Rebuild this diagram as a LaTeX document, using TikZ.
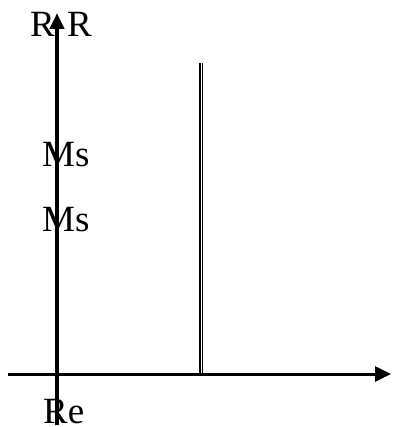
\documentclass[tikz,border=0pt]{standalone}
\usepackage{fontspec}
\setmainfont{Liberation Serif}
\usetikzlibrary{arrows.meta}
\begin{document}
\begin{tikzpicture}[x=1pt,y=-1pt,
  lbl/.style={anchor=base west,inner sep=0pt,font=\fontsize{37}{40}\selectfont},
  axis/.style={-{Triangle[length=16pt,width=15pt]},line width=3pt},
  vline/.style={double=white,line width=1.4pt,double distance=0.9pt}]
\useasboundingbox (0,0) rectangle (393,427);
\node[lbl] (r1) at (30,37) {R};
\node[lbl] (r2) at (67,37) {R};
\node[lbl] (ms1) at (42,167) {Ms};
\node[lbl] (ms2) at (42,231) {Ms};
\node[lbl] (re) at (43,423) {Re};
\coordinate (ybot) at (57,425);
\coordinate (ytop) at (57,13);
\coordinate (xl) at (8,374);
\coordinate (xr) at (391,374);
\coordinate (ltop) at (201,63);
\coordinate (lbot) at (201,374);
\draw[vline] (ltop) -- (lbot);
\draw[axis] (xl) -- (xr);
\draw[axis,line width=4pt,-{Triangle[length=16pt,width=14pt]}] (ybot) -- (ytop);
\end{tikzpicture}
\end{document}
